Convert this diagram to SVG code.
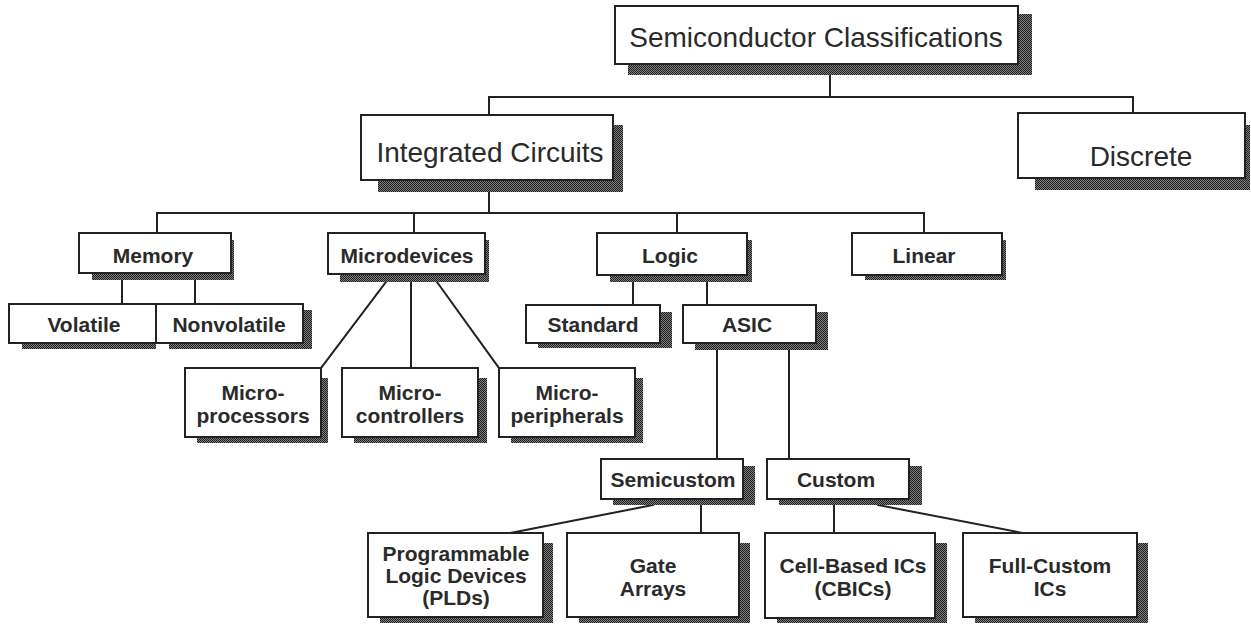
<svg xmlns="http://www.w3.org/2000/svg" width="1251" height="625" viewBox="0 0 1251 625">
<defs>
<pattern id="ht" width="2" height="2" patternUnits="userSpaceOnUse">
<rect width="2" height="2" fill="#808080"/>
<rect x="0" y="0" width="1" height="1" fill="#1e1e1e"/>
<rect x="1" y="1" width="1" height="1" fill="#1e1e1e"/>
</pattern>
<style>
.sh{fill:url(#ht)}
.bx{fill:#fff;stroke:#222;stroke-width:2}
.cn line{stroke:#222;stroke-width:2;stroke-linecap:square}
.t1{font-family:"Liberation Sans",Arial,sans-serif;font-size:28px;fill:#2a2a2a;text-anchor:middle}
.t2{font-family:"Liberation Sans",Arial,sans-serif;font-size:21px;font-weight:bold;fill:#2a2a2a;text-anchor:middle}
</style>
</defs>
<rect width="1251" height="625" fill="#fff"/>

<g id="connectors" class="cn">
<line x1="830" y1="75" x2="830" y2="97"/>
<line x1="489" y1="97" x2="1133" y2="97"/>
<line x1="489" y1="97" x2="489" y2="115"/>
<line x1="1133" y1="97" x2="1133" y2="113"/>
<line x1="489" y1="192" x2="489" y2="213"/>
<line x1="157" y1="213" x2="924" y2="213"/>
<line x1="157" y1="213" x2="157" y2="233"/>
<line x1="414" y1="213" x2="414" y2="233"/>
<line x1="677" y1="213" x2="677" y2="233"/>
<line x1="924" y1="213" x2="924" y2="233"/>
<line x1="122" y1="280" x2="122" y2="304"/>
<line x1="195" y1="280" x2="195" y2="304"/>
<line x1="386" y1="282" x2="321" y2="368"/>
<line x1="411" y1="282" x2="411" y2="368"/>
<line x1="437" y1="282" x2="499" y2="368"/>
<line x1="633" y1="282" x2="633" y2="305"/>
<line x1="707" y1="282" x2="707" y2="305"/>
<line x1="717" y1="350" x2="717" y2="459"/>
<line x1="789" y1="350" x2="789" y2="459"/>
<line x1="653" y1="505" x2="510" y2="533"/>
<line x1="701" y1="505" x2="701" y2="533"/>
<line x1="834" y1="505" x2="834" y2="533"/>
<line x1="878" y1="505" x2="1023" y2="533"/>
</g>

<g id="semiconductor-classifications">
<rect class="sh" x="628" y="14" width="404" height="61"/>
<rect class="bx" x="615" y="6" width="403" height="58"/>
<text class="t1" x="816" y="47">Semiconductor Classifications</text>
</g>

<g id="integrated-circuits">
<rect class="sh" x="378" y="125" width="245" height="67"/>
<rect class="bx" x="361" y="115" width="252" height="65"/>
<text class="t1" x="490" y="162">Integrated Circuits</text>
</g>

<g id="discrete">
<rect class="sh" x="1035" y="125" width="215" height="65"/>
<rect class="bx" x="1018" y="113" width="227" height="65"/>
<text class="t1" x="1141" y="166">Discrete</text>
</g>

<g id="memory">
<rect class="sh" x="92" y="240" width="142" height="40"/>
<rect class="bx" x="79" y="233" width="152" height="40"/>
<text class="t2" x="153" y="263">Memory</text>
</g>

<g id="microdevices">
<rect class="sh" x="340" y="240" width="149" height="42"/>
<rect class="bx" x="328" y="233" width="157" height="41"/>
<text class="t2" x="407" y="263">Microdevices</text>
</g>

<g id="logic">
<rect class="sh" x="610" y="240" width="142" height="42"/>
<rect class="bx" x="597" y="233" width="150" height="42"/>
<text class="t2" x="670" y="263">Logic</text>
</g>

<g id="linear">
<rect class="sh" x="865" y="240" width="141" height="40"/>
<rect class="bx" x="852" y="233" width="150" height="42"/>
<text class="t2" x="924" y="263">Linear</text>
</g>

<g id="volatile">
<rect class="sh" x="22" y="310" width="134" height="39"/>
<rect class="bx" x="9" y="304" width="147" height="39"/>
<text class="t2" x="84" y="332">Volatile</text>
</g>

<g id="nonvolatile">
<rect class="sh" x="169" y="310" width="143" height="39"/>
<rect class="bx" x="156" y="304" width="147" height="39"/>
<text class="t2" x="229" y="332">Nonvolatile</text>
</g>

<g id="standard">
<rect class="sh" x="538" y="312" width="134" height="36"/>
<rect class="bx" x="526" y="305" width="134" height="38"/>
<text class="t2" x="593" y="332">Standard</text>
</g>

<g id="asic">
<rect class="sh" x="695" y="312" width="133" height="38"/>
<rect class="bx" x="683" y="305" width="133" height="38"/>
<text class="t2" x="747" y="332">ASIC</text>
</g>

<g id="microprocessors">
<rect class="sh" x="197" y="378" width="131" height="65"/>
<rect class="bx" x="185" y="368" width="136" height="69"/>
<text class="t2" x="253" y="400">Micro-</text>
<text class="t2" x="253" y="423">processors</text>
</g>

<g id="microcontrollers">
<rect class="sh" x="354" y="378" width="133" height="65"/>
<rect class="bx" x="342" y="368" width="136" height="69"/>
<text class="t2" x="410" y="400">Micro-</text>
<text class="t2" x="410" y="423">controllers</text>
</g>

<g id="microperipherals">
<rect class="sh" x="511" y="378" width="132" height="65"/>
<rect class="bx" x="499" y="368" width="136" height="69"/>
<text class="t2" x="567" y="400">Micro-</text>
<text class="t2" x="567" y="423">peripherals</text>
</g>

<g id="semicustom">
<rect class="sh" x="613" y="466" width="142" height="39"/>
<rect class="bx" x="601" y="459" width="142" height="40"/>
<text class="t2" x="673" y="487">Semicustom</text>
</g>

<g id="custom">
<rect class="sh" x="779" y="466" width="143" height="39"/>
<rect class="bx" x="767" y="459" width="142" height="40"/>
<text class="t2" x="836" y="487">Custom</text>
</g>

<g id="plds">
<rect class="sh" x="380" y="543" width="173" height="80"/>
<rect class="bx" x="368" y="533" width="175" height="84"/>
<text class="t2" x="456" y="561">Programmable</text>
<text class="t2" x="456" y="583">Logic Devices</text>
<text class="t2" x="456" y="605">(PLDs)</text>
</g>

<g id="gate-arrays">
<rect class="sh" x="579" y="543" width="171" height="80"/>
<rect class="bx" x="567" y="533" width="172" height="84"/>
<text class="t2" x="653" y="573">Gate</text>
<text class="t2" x="653" y="596">Arrays</text>
</g>

<g id="cell-based">
<rect class="sh" x="777" y="543" width="170" height="80"/>
<rect class="bx" x="765" y="533" width="170" height="85"/>
<text class="t2" x="853" y="573">Cell-Based ICs</text>
<text class="t2" x="853" y="596">(CBICs)</text>
</g>

<g id="full-custom">
<rect class="sh" x="975" y="543" width="173" height="80"/>
<rect class="bx" x="963" y="533" width="174" height="84"/>
<text class="t2" x="1050" y="573">Full-Custom</text>
<text class="t2" x="1050" y="596">ICs</text>
</g>
</svg>
